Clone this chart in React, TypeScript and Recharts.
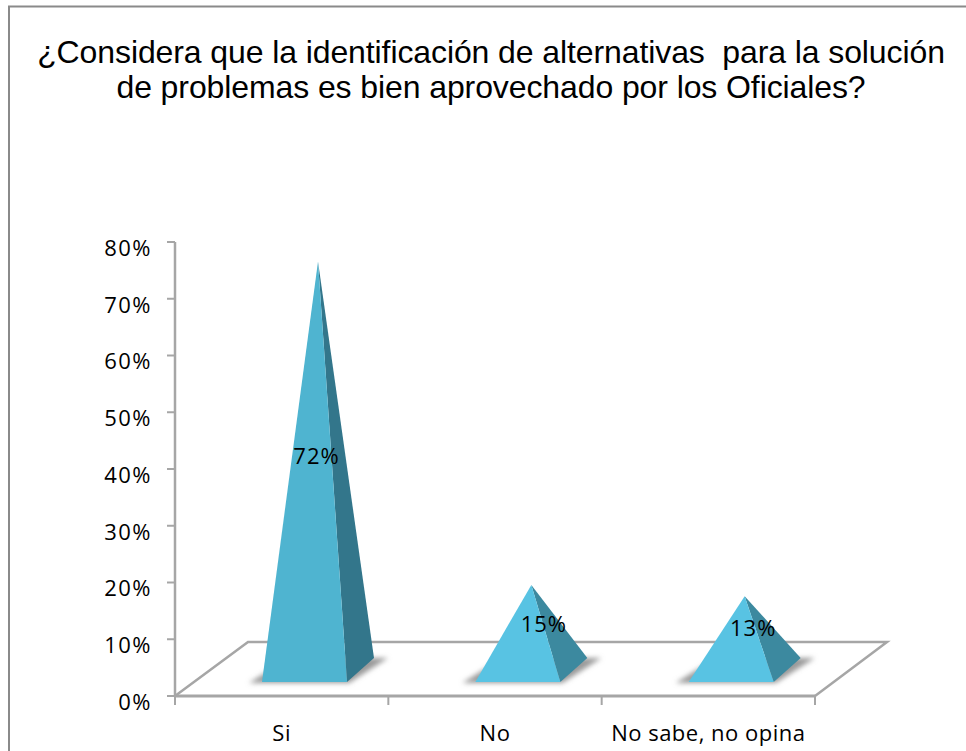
import React from 'react';
import { BarChart, Bar, XAxis, YAxis, LabelList } from 'recharts';

const categories = ['Si', 'No', 'No sabe, no opina'];
const shares = [0.72, 0.15, 0.13];
const yTicks = [0, 0.1, 0.2, 0.3, 0.4, 0.5, 0.6, 0.7, 0.8];
const titleLines = [
	'¿Considera que la identificación de alternativas  para la solución',
	'de problemas es bien aprovechado por los Oficiales?',
];

const frontColors = ['#4fb4d0', '#58c3e3', '#58c3e3'];
const sideColors = ['#33768b', '#3c899f', '#3c899f'];
const labelNudge = [
	{ dx: 35, dy: -35 },
	{ dx: 49, dy: -28 },
	{ dx: 45, dy: -30 },
];

const rows = categories.map((name, i) => ({ name, share: shares[i] }));

const AXIS_GREY = '#a6a6a6';
const TEXT_FONT = '"Open Sans", sans-serif';
const PLOT_LEFT = 175;
const PLOT_RIGHT = 815;
const BAND = (PLOT_RIGHT - PLOT_LEFT) / categories.length;

// pyramid sits on a floor drawn in fake 3D
const SHIFT_X = 23;
const LIFT = 14;
const DEPTH_X = 27;
const DEPTH_Y = 24;
const APEX_LIFT = 26;

const pts = (list: number[][]) => list.map((p) => p.join(',')).join(' ');

const Pyramid = (props: any) => {
	const { x, y, width, height, index } = props;
	const left = x + SHIFT_X;
	const right = left + width;
	const front = y + height - LIFT;
	const back = front - DEPTH_Y;
	const apex = [left + width / 2 + DEPTH_X / 2, y - APEX_LIFT];
	return (
		<g>
			<polygon
				points={pts([
					[left - 13, front + 1],
					[right + 2, front + 1],
					[right + DEPTH_X + 14, back],
					[left + DEPTH_X, back],
				])}
				fill="#9a9a9a"
				filter="url(#soft)"
			/>
			<polygon points={pts([[right, front], [right + DEPTH_X, back], apex])} fill={sideColors[index]} />
			<polygon points={pts([[left, front], [right, front], apex])} fill={frontColors[index]} />
		</g>
	);
};

const CategoryTick = (props: any) => {
	const { x, y, payload, index } = props;
	const idx = payload?.index ?? index;
	return (
		<g>
			<line x1={x - BAND / 2} x2={x - BAND / 2} y1={y} y2={y + 9} stroke={AXIS_GREY} strokeWidth={2} />
			{idx === categories.length - 1 && (
				<line x1={x + BAND / 2} x2={x + BAND / 2} y1={y} y2={y + 9} stroke={AXIS_GREY} strokeWidth={2} />
			)}
			<text x={x} y={y + 45} textAnchor="middle" fontFamily={TEXT_FONT} fontSize={22} letterSpacing={0.5} fill="#000">
				{payload.value}
			</text>
		</g>
	);
};

const ShareLabel = (props: any) => {
	const { x, y, width, value, index } = props;
	const nudge = labelNudge[index];
	const height = props.height ?? 0;
	return (
		<text
			x={x + width / 2 + nudge.dx}
			y={y + height / 2 + nudge.dy + 7}
			textAnchor="middle"
			fontFamily={TEXT_FONT}
			fontSize={22}
			letterSpacing={1}
			fill="#000"
		>
			{Math.round(value * 100)}%
		</text>
	);
};

export default function App() {
	return (
		<div style={{ position: 'absolute', left: 0, top: 0, width: 966, height: 751, overflow: 'hidden', background: '#fff' }}>
			<BarChart
				width={966}
				height={751}
				data={rows}
				margin={{ top: 242, right: 151, bottom: 0, left: 0 }}
			>
				<defs>
					<filter id="soft" x="-20%" y="-40%" width="140%" height="180%">
						<feGaussianBlur stdDeviation="2.5" />
					</filter>
					<filter id="softLine" x="-5%" y="-20%" width="110%" height="140%">
						<feGaussianBlur stdDeviation="0.5" />
					</filter>
				</defs>
				<rect x={9} y={6.5} width={1000} height={800} fill="none" stroke="#8a8a8a" strokeWidth={2} />
				{titleLines.map((line, i) => (
					<text
						key={line}
						x={491}
						y={63 + i * 35}
						textAnchor="middle"
						fontFamily='"Liberation Sans", Arial, sans-serif'
						fontSize={32}
						letterSpacing={-0.1}
						fill="#000"
						style={{ whiteSpace: 'pre' }}
					>
						{line}
					</text>
				))}
				<polyline
					points="175,696 248,642 887,642 815,696"
					fill="none"
					stroke={AXIS_GREY}
					strokeWidth={2.5}
					filter="url(#softLine)"
				/>
				<XAxis
					dataKey="name"
					height={55}
					interval={0}
					tickLine={false}
					tickSize={0}
					tickMargin={0}
					tick={<CategoryTick />}
					axisLine={{ stroke: AXIS_GREY, strokeWidth: 3 }}
				/>
				<YAxis
					width={175}
					domain={[0, 0.8]}
					ticks={yTicks}
					interval={0}
					tickSize={8}
					tickLine={{ stroke: AXIS_GREY, strokeWidth: 2 }}
					axisLine={{ stroke: AXIS_GREY, strokeWidth: 2.5 }}
					tickFormatter={(value) => `${Math.round(value * 100)}%`}
					tick={{ fill: '#000', fontSize: 22, letterSpacing: 1.5, fontFamily: TEXT_FONT, dy: 6, dx: -13 }}
				/>
				<Bar dataKey="share" barSize={85} shape={<Pyramid />} isAnimationActive={false}>
					<LabelList dataKey="share" content={<ShareLabel />} />
				</Bar>
			</BarChart>
		</div>
	);
}
